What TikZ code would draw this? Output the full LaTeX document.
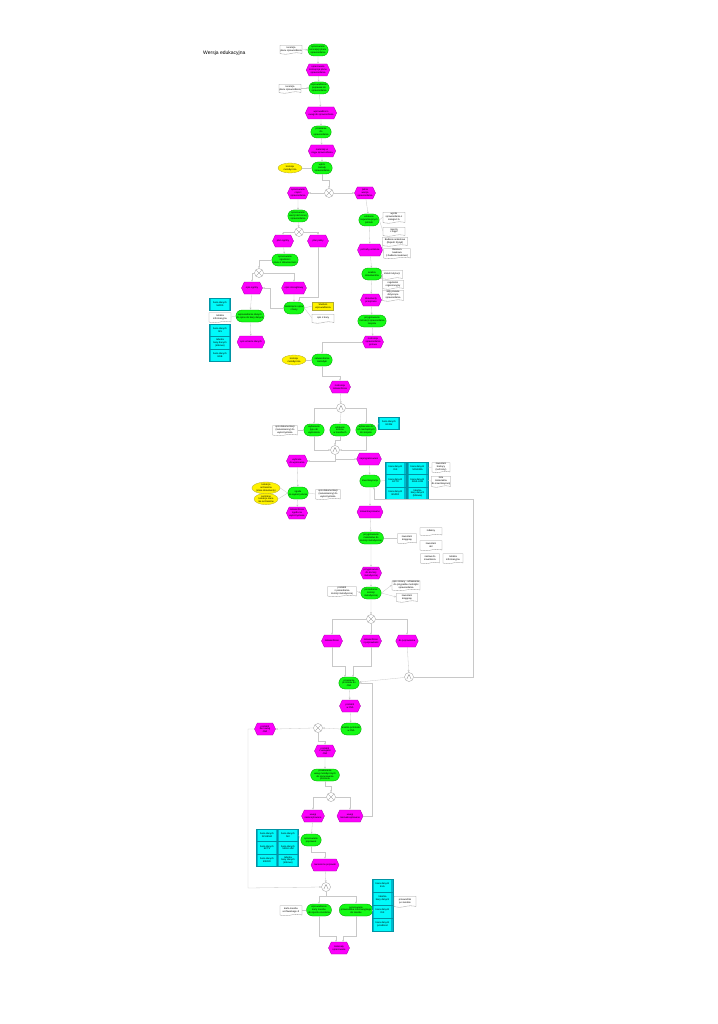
\documentclass[tikz,border=0pt]{standalone}
\usepackage{fontspec}
\setmainfont{Liberation Sans}
\usetikzlibrary{shapes.misc,shapes.geometric,shapes.symbols,arrows.meta}
\newcommand\mytiny{\fontsize{2.4}{2.8}\selectfont}
\definecolor{fngreen}{RGB}{20,250,20}
\definecolor{evmag}{RGB}{252,0,252}
\definecolor{dbcyan}{RGB}{0,250,250}
\definecolor{dbdark}{RGB}{0,185,205}
\definecolor{lncol}{RGB}{200,200,200}
\tikzset{
 base/.style={align=center, font=\mytiny, inner sep=0.3pt, line width=0.3pt},
 fn/.style={base, rounded rectangle, draw=green!60!black, fill=fngreen, minimum width=21pt, minimum height=12pt},
 ev/.style={base, signal, signal to=west and east, signal pointer angle=130, draw=evmag!65!black, fill=evmag, minimum width=21pt, minimum height=12pt},
 doc/.style={base, tape, tape bend top=none, tape bend height=1.4pt, draw=gray!80, fill=white, minimum width=22pt, minimum height=9pt},
 org/.style={base, ellipse, draw=olive!70, fill=yellow, minimum width=24pt, minimum height=10pt},
 yrect/.style={base, rectangle, draw=olive!70, fill=yellow, minimum width=21pt, minimum height=8pt},
 db/.style={base, rectangle, draw=dbdark!80!black, fill=dbcyan, minimum width=21pt, minimum height=12.6pt,
   path picture={\fill[dbdark] (path picture bounding box.south west) rectangle ([xshift=1.6pt]path picture bounding box.north west);
     \fill[dbdark] (path picture bounding box.south east) rectangle ([xshift=-1.6pt]path picture bounding box.north east);}},
 gate/.style={circle, draw=gray!80, fill=white, line width=0.3pt, minimum size=9pt, inner sep=0pt},
 xorg/.style={gate, path picture={\draw[gray, line width=0.3pt]
   ([shift={(-2.7pt,-2.7pt)}]path picture bounding box.center) -- ([shift={(2.7pt,2.7pt)}]path picture bounding box.center)
   ([shift={(-2.7pt,2.7pt)}]path picture bounding box.center) -- ([shift={(2.7pt,-2.7pt)}]path picture bounding box.center);}},
 andg/.style={gate, path picture={\draw[gray, line width=0.3pt]
   ([shift={(-2.2pt,-2.2pt)}]path picture bounding box.center) -- ([shift={(0pt,2.6pt)}]path picture bounding box.center) -- ([shift={(2.2pt,-2.2pt)}]path picture bounding box.center);}},
 con/.style={draw=lncol, line width=0.3pt, -{Stealth[length=2.2pt,width=1.8pt]}},
 lnk/.style={draw=lncol, line width=0.3pt},
}
\begin{document}
\begin{tikzpicture}[x=1pt,y=-1pt]
\fill[white] (0,0) rectangle (717,1024);
\useasboundingbox (0,0) rectangle (717,1024);

\node[font=\fontsize{5}{6}\selectfont, anchor=west, inner sep=0pt] (title) at (203,53) {Wersja edukacyjna};

% top column
\node[fn] (t1) at (318,50) {opracowanie\\koncepcji planu\\sprawozdania};
\node[doc] (d1) at (291,49) {recenzja\\planu sprawozdania};
\node[ev] (t2) at (318,70) {opracowana\\koncepcja planu\\sprawozdania};
\node[fn] (t3) at (319,88) {wprowadzenie\\poprawek do\\sprawozdania};
\node[doc] (d2) at (290,88) {recenzja\\planu sprawozdania};
\node[ev, minimum width=31pt] (t4) at (321,113) {wprowadzono\\uwagi do sprawozdania};
\node[fn] (t5) at (321,132) {przesłanie\\do\\sprawozdania};
\node[ev, minimum width=24pt] (t6) at (322,151) {materiały w\\ciągu sprawozdania};
\node[fn] (t7) at (322,168) {wybór\\metody\\sprawozdania};
\node[org] (y1) at (290,168) {komisja\\metodyczna};
\node[xorg] (x1) at (329,193) {};
\node[ev] (t8) at (298,193) {opracowanie\\części\\sprawozdania};
\node[ev] (t9) at (365,193) {pełna\\wersja\\sprawozdania};
\node[fn] (t10) at (298,216) {opracowanie\\wersji skróconej\\sprawozdania};
\node[xorg] (x2) at (299,232) {};
\node[ev] (t11) at (283,241) {plan ogólny};
\node[ev] (t12) at (318,241) {plan pełny};
\node[fn, minimum width=26pt] (t13) at (285,260) {opracowanie\\zgodności\\planu z dokumentami};
\node[xorg] (x3) at (259,273) {};
\node[ev] (t14) at (252,288) {opis ogólny};
\node[ev] (t15) at (294,288) {opis szczegółowy};
\node[fn] (t16) at (294,308) {zamknięcie opisu\\z bazy};
\node[yrect] (yr) at (323,306) {Studium\\wprowadzenia};
\node[doc] (dz) at (323,318) {opis z bazy};
\node[fn, minimum width=24pt] (t17) at (250,316) {wprowadzenie danych\\do opisu do bazy danych};
\node[ev, minimum width=24pt] (t18) at (251,342) {opis w bazie danych};
\node[db] (c1) at (220,304) {baza danych\\MARS};
\node[doc, minimum height=10pt] (cn) at (220,317) {notatka\\informacyjna};
\node[db] (c2) at (220,330) {baza danych\\SIS};
\node[db] (c3) at (220,342.6) {tabelka\\bazy danych\\(kilkowe)};
\node[db] (c4) at (220,355.2) {baza danych\\EDB};

% right branch
\node[fn] (t19) at (369,220) {ustalenie\\najważniejszych\\potrzeb};
\node[doc, minimum height=11pt] (d3) at (394,217) {wyniki\\sprawozdania z\\kategorii A};
\node[doc] (d4) at (394,231) {raporty\\z zajęć};
\node[ev] (t20) at (370,250) {potrzeby ustalone};
\node[doc, minimum width=25pt] (d5) at (395,241) {Badanie ankietowe\\(Rejestr Ryzyk)};
\node[doc, minimum width=27pt, minimum height=10pt] (d6) at (397,253) {literatura\\naukowa\\(i badania naukowe)};
\node[fn] (t21) at (372,274) {analiza\\dokumentów};
\node[doc, minimum width=21pt] (d7) at (392,274) {statut instytucji};
\node[doc, minimum width=21pt] (d8) at (393,284) {regulamin\\organizacyjny};
\node[doc, minimum width=21pt, minimum height=11pt] (d9) at (393,295) {akty prawne\\dotyczące\\sprawozdania};
\node[ev] (t22) at (371,300) {dokumenty\\przejrzane};
\node[fn] (t23) at (372,321) {przygotowanie\\instrukcji sprawozdania\\zespołu};
\node[ev] (t24) at (373,342) {instrukcja\\sprawozdania\\gotowa};
\node[org] (y2) at (294,360) {komisja\\metodyczna};
\node[fn] (t26) at (322,360) {zatwierdzenie\\metodyki};
\node[ev] (t27) at (340,387) {instrukcja\\zatwierdzona};
\node[andg] (a1) at (341,408) {};
\node[fn] (g1) at (314,430) {wybieranie\\typu do\\wykonania};
\node[fn] (g2) at (340,430) {ustalenie\\terminu\\w zasobach};
\node[fn] (g3) at (366,430) {wybieranie do\\ich niezbędnych\\do zespołu};
\node[doc, minimum width=25pt, minimum height=10pt] (dg) at (285,430) {opis dokumentacji\\(nazwa/wzory) do\\wykorzystania};
\node[db] (cg) at (389,423) {baza danych\\ECAM};
\node[andg] (a2) at (335,450) {};
\node[ev] (m1) at (297,461) {wybrane\\do wykonania};
\node[ev] (m2) at (369,459) {zaprogramowano};
\node[fn] (inw) at (370,481) {inwentaryzacja};
\node[db] (b11) at (395.5,468) {baza danych\\ISK};
\node[db] (b12) at (395.5,480.6) {baza danych\\ECTS};
\node[db] (b13) at (395.5,493.2) {baza danych\\BIURO};
\node[db] (b21) at (417.5,468) {baza danych\\SCHEMA};
\node[db] (b22) at (417.5,480.6) {baza danych\\SIGILLUM};
\node[db] (b23) at (417.5,493.2) {tabelka\\bazy danych\\(kilkowe)};
\node[doc, minimum width=18pt, minimum height=10pt] (di1) at (441,467) {inwentarz\\bieżący\\(ruchomy)};
\node[doc, minimum width=18pt, minimum height=11pt] (di2) at (441,481) {lista\\materiałów\\do inwentaryzacji};
\node[org, minimum height=9pt] (y3) at (266,488) {kolekcja\\archiwalna\\(stare dokumenty)};
\node[org] (y4) at (266,499) {centralne\\kolekcje stare\\nie archiwalne};
\node[fn] (zg) at (298,493) {zgoda\\na wykorzystanie};
\node[doc, minimum width=25pt, minimum height=10pt] (dz2) at (328,494) {opis dokumentacji\\(nazwa/wzory) do\\wykorzystania};
\node[ev] (zat) at (297,513) {zatwierdzona\\zgoda na\\wykorzystanie};
\node[ev] (zin) at (370,512) {zinwentaryzowano};
\node[fn] (pm) at (371,538) {przygotowanie\\materiałów do\\komisji metodycznej};
\node[doc, minimum width=19pt, minimum height=10pt] (ik) at (407,538) {inwentarz\\księgowy};
\node[doc, minimum width=22pt, minimum height=8pt] (ind) at (431,531) {indeksy};
\node[doc, minimum width=22pt, minimum height=10pt] (ia) at (431,545) {inwentarz\\akt};
\node[doc, minimum width=19pt, minimum height=10pt] (zi) at (430,558) {zestaw do\\inwentarza};
\node[doc, minimum width=20pt, minimum height=10pt] (ni) at (453,558) {notatka\\informacyjna};
\node[ev] (pk) at (371,573) {przygotowano\\do komisji\\metodycznej};
\node[fn] (pos) at (371,593) {posiedzenie\\komisji\\metodycznej};
\node[doc, minimum width=29pt, minimum height=10pt] (prot) at (342,591) {protokół\\z posiedzenia\\komisji metodycznej};
\node[doc, minimum width=28pt, minimum height=10pt] (oz) at (406,585) {opis zmiany - odniesienie\\do przypadku metodyki\\sprawozdania};
\node[doc, minimum width=21pt, minimum height=9pt] (ik2) at (407,597) {inwentarz\\księgowy};
\node[xorg] (x4) at (371,619) {};
\node[ev] (z1) at (332,641) {zatwierdzono};
\node[ev] (z2) at (371,641) {zatwierdzono\\z poprawkami};
\node[ev] (z3) at (407,641) {do poprawienia};
\node[andg] (a3) at (409,677) {};
\node[fn] (prz) at (349,683) {przesłanie\\protokołu do\\JNA};
\node[ev] (pj) at (350,706) {protokół\\w JNA};
\node[fn] (an) at (351,729) {analiza protokołu\\w JNA};
\node[xorg] (x5) at (318,728) {};
\node[ev] (pb) at (265,729) {protokół\\bez uwag\\JNA};
\node[ev] (pu) at (325,751) {protokół\\z uwagami\\JNA};
\node[fn] (pw) at (325,775) {przekazanie\\uwag metodycznych\\do opracowania\\protokołu};
\node[xorg] (x6) at (331,797) {};
\node[ev] (ua) at (313,816) {uwagi\\zaakceptowane};
\node[ev] (un) at (350,816) {uwagi\\niezaakceptowane};
\node[db] (e11) at (267,835) {baza danych\\SCHEMA};
\node[db] (e12) at (267,847.6) {baza danych\\ECTS};
\node[db] (e13) at (267,860.2) {baza danych\\BIURO};
\node[db] (e21) at (288,835) {baza danych\\ISK};
\node[db] (e22) at (288,847.6) {baza danych\\SIGILLUM};
\node[db] (e23) at (288,860.2) {tabelka\\bazy danych\\(kilkowe)};
\node[fn] (op) at (311,840) {opracowanie\\poprawek};
\node[ev, minimum width=22pt] (np) at (325,865) {naniesiono poprawki};
\node[andg] (a4) at (326,887) {};
\node[fn] (wk) at (319,910) {wprowadzenie\\karty zasobu\\do rejestru zasobów};
\node[fn] (wp) at (356,910) {opracowanie\\przewodnika informacyjnego\\do zasobu};
\node[doc, minimum height=10pt] (dk) at (291,910) {karta zasobu\\archiwalnego JI};
\node[db] (r1) at (382.5,885.5) {baza danych\\ELA};
\node[db] (r2) at (382.5,898.5) {tabelka\\bazy danych};
\node[db] (r3) at (382.5,911.5) {baza danych\\ISK};
\node[db] (r4) at (382.5,924.5) {baza danych\\przedmiot};
\node[doc, minimum height=11pt] (pz) at (405,901) {przewodnik\\po zasobie};
\node[ev] (mo) at (339,948) {materiały\\opracowane};

% connectors top
\draw[con] (d1.east) -- (t1.west);
\draw[con] (t1) -- (t2);
\draw[con] (t2) -- (t3);
\draw[con] (d2.east) -- (t3.west);
\draw[con] (t3) -- (t4);
\draw[con] (t4) -- (t5);
\draw[con] (t5) -- (t6);
\draw[con] (t6) -- (t7);
\draw[lnk] (y1.east) -- (t7.west);
\draw[con] (t7.south) -- ++(0,6) -| (x1.north);
\draw[con] (x1.west) -- (t8.east);
\draw[con] (x1.east) -- (t9.west);
\draw[con] (t8) -- (t10);
\draw[con] (t10) -- (x2);
\draw[con] (x2.west) -| (t11.north);
\draw[con] (x2.east) -| (t12.north);
\draw[con] (t11) -- (t13);
\draw[con] (t13.west) -| (x3.north);
\draw[con] (x3.west) -| (t14.north);
\draw[con] (x3.east) -| (t15.north);
\draw[con] (t15) -- (t16);
\draw[con] (t12.south) -- (318,297) -| ([xshift=5pt]t16.north);
\draw[con] (t16.west) -- (270,308) -- (270,288) -- (t14.east);
\draw[lnk] (t16.east) -- (yr.west);
\draw[lnk] (t16.east) -- (dz.west);
\draw[con] (t14) -- (t17);
\draw[con] (t17) -- (t18);
\draw[lnk] (cn.east) -- (t17.west);

\draw[con] (t9) -- (t19);
\draw[con] (t19) -- (t20);
\draw[con] (t20) -- (t21);
\draw[con] (t21) -- (t22);
\draw[con] (t22) -- (t23);
\draw[con] (t23) -- (t24);
\draw[lnk] (t19.east) -- (d3.west);
\draw[lnk] (t19.east) -- (d4.west);
\draw[lnk] (t20.east) -- (d5.west);
\draw[lnk] (t20.east) -- (d6.west);
\draw[lnk] (t21.east) -- (d7.west);
\draw[lnk] (t21.east) -- (d8.west);
\draw[lnk] (t21.east) -- (d9.west);
\draw[con] (t24.west) -| (t26.north);
\draw[lnk] (y2.east) -- (t26.west);
\draw[con] (t26.south) -- ++(0,10) -| (t27.north);
\draw[con] (t27) -- (a1);
\draw[con] (a1.west) -| (g1.north);
\draw[con] (a1.south) -- (g2.north);
\draw[con] (a1.east) -| (g3.north);
\draw[lnk] (dg.east) -- (g1.west);
\draw[lnk] (cg.west) -- (g3.east);
\draw[con] (g1.south) |- (a2.west);
\draw[con] (g2.south) -- ++(0,4) -| (a2.north);
\draw[con] (g3.south) |- (a2.east);
\draw[con] (a2.south) |- (m1.east);
\draw[con] (a2.south) |- (m2.west);
\draw[con] (m1) -- (zg);
\draw[con] (zg) -- (zat);
\draw[lnk] (y3.east) -- (zg.west);
\draw[lnk] (y4.east) -- (zg.west);
\draw[lnk] (dz2.west) -- (zg.east);
\draw[con] (m2) -- (inw);
\draw[lnk] (inw.east) -- (b12.west);
\draw[lnk] (b21.east) -- (di1.west);
\draw[lnk] (b22.east) -- (di2.west);
\draw[con] (inw) -- (zin);
\draw[con] (zin) -- (pm);
\draw[lnk] (pm.east) -- (ik.west);
\draw[con] (pm) -- (pk);
\draw[con] (pk) -- (pos);
\draw[con] (prot.east) -- (pos.west);
\draw[con] (pos.east) -- (oz.west);
\draw[con] (pos.east) -- (ik2.west);
\draw[con] (pos) -- (x4);
\draw[con] (x4.west) -| (z1.north);
\draw[con] (x4.south) -- (z2.north);
\draw[con] (x4.east) -| (z3.north);
\draw[con] (z1.south) -- (332,666) -| (345,677);
\draw[con] (z2.south) -- (371,666) -| (353,677);
\draw[con] (z3) -- (a3);
\draw[con] (a3) -- (prz);
\draw[con] (a3.east) -- (473,677) -- (473,499) -- (374,499) -- (374,487.2);
\draw[con] (prz) -- (pj);
\draw[con] (pj) -- (an);
\draw[con] (an.west) -- (x5.east);
\draw[con] (x5.west) -- (pb.east);
\draw[con] (x5.south) -- (318,741) -| (pu.north);
\draw[con] (pu) -- (pw);
\draw[con] (pw.south) -- ++(0,5) -| (x6.north);
\draw[con] (x6.west) -| (ua.north);
\draw[con] (x6.east) -| (un.north);
\draw[con] (un.east) -- (372,816) -- (372,683) -- (prz.east);
\draw[con] (pb.west) -- (248,729) -- (248,888) -- (a4.west);
\draw[con] (ua) -- (op);
\draw[lnk] (e21.east) -- (op.west);
\draw[con] (op.south) -- ++(0,6) -| (np.north);
\draw[con] (np) -- (a4);
\draw[con] (a4.south) -- ++(0,4) -| (wk.north);
\draw[con] (a4.south) -- ++(0,4) -| (wp.north);
\draw[lnk] (dk.east) -- (wk.west);
\draw[lnk] (r3.west) -- (wp.east);
\draw[con] (wk.south) -- (319,936) -| (336,942);
\draw[con] (wp.south) -- (356,936) -| (343,942);
\end{tikzpicture}
\end{document}
